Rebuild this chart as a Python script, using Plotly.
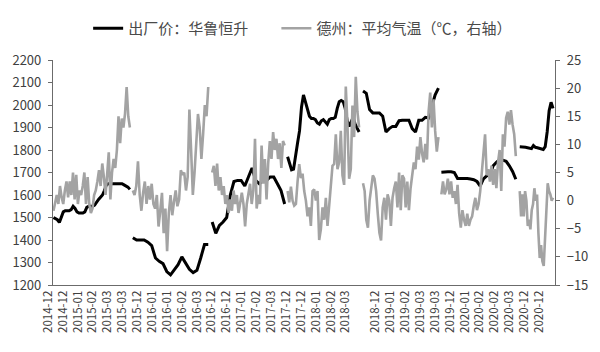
import plotly.graph_objects as go

# ---------------- data ----------------
price_name = "出厂价：华鲁恒升"
temp_name = "德州：平均气温（℃，右轴）"

# category-index span of each winter season (Dec -> Mar)
season_span = [(0, 78), (81, 158), (162, 236), (239, 312), (316, 393), (396, 472), (476, 510)]

price_s1 = [1500, 1495, 1490, 1478, 1500, 1525, 1530, 1530, 1530, 1535, 1550, 1540, 1525, 1520, 1520, 1520,
            1525, 1545, 1550, 1550, 1550, 1555, 1570, 1580, 1590, 1600, 1620, 1645, 1650, 1650, 1650, 1650,
            1650, 1650, 1650, 1650, 1645, 1640, 1635, 1625]
price_s2 = [1410, 1400, 1400, 1400, 1390, 1375, 1320, 1305, 1295, 1260, 1245, 1265, 1290, 1325, 1300, 1270,
            1255, 1265, 1320, 1380, 1380]
price_s3 = [1480, 1430, 1465, 1480, 1500, 1600, 1660, 1665, 1665, 1640, 1680, 1720, 1665, 1650, 1665, 1665,
            1680, 1680, 1650, 1620, 1560]
price_s4 = [1770, 1740, 1712, 1715, 1765, 1830, 1885, 1990, 2045, 2015, 1975, 1950, 1940, 1940, 1935, 1920,
            1915, 1930, 1935, 1925, 1915, 1935, 1940, 1940, 1945, 1985, 2015, 2020, 2015, 1985, 1930, 1905,
            1925, 1945, 1915, 1895, 1880]
price_s5 = [2062, 2052, 1980, 1965, 1965, 1965, 1950, 1880, 1895, 1905, 1905, 1930, 1932, 1932, 1932, 1895,
            1880, 1932, 1932, 1945, 1942, 1995, 2045, 2075]
price_s6 = [1701, 1703, 1703, 1703, 1700, 1673, 1673, 1675, 1673, 1671, 1668, 1660, 1640, 1672, 1685, 1690,
            1730, 1745, 1757, 1755, 1750, 1730, 1705, 1670]
price_s7 = [1814, 1814, 1814, 1812, 1810, 1808, 1806, 1820, 1812, 1810, 1808, 1806, 1802, 1815, 1880, 1975,
            2012, 1985]

temp_s1 = [-1.8, -0.6, 1, -0.6, 2.6, 0.6, -0.6, 1.8, 3.4, 0.6, 3.4, 1, 5, 0.2, 4.6, -0.6, 1.8, 1, 2.6, 5,
           -0.6, 4.2, -0.6, -2.2, -1.4, 1, 1.8, 3.4, 5.4, 2.6, 6.6, 4.2, 1, 4.6, 8.6, 0.2, 5, 7.4, 5.8, 9,
           15, 10.2, 14.6, 13, 15.4, 20.2, 15, 13]
temp_s2 = [1.8, 1, 2.6, 7, 1, -1.8, 1.4, 3.4, -0.6, 2.6, 0.2, 3, -0.6, -1.4, 1, -4.6, -1.8, 1.4, -5.8, -1.4,
           -9, -2.2, 1, -2.6, -0.2, 1.8, -1, 0.2, 5.4, 4.6, 5, 1.8, 4.2, 16.2, 9, 1, 5, 10.6, 15.4, 13,
           7.4, 11.8, 17, 15, 20.2]
temp_s3 = [5, 6.2, 2.6, 6.6, 1.8, 4.2, 1, 2.6, -0.6, 1, -2.2, 0.2, -1.8, 1.8, -0.6, 1, -2.2, -0.2, 1.4, -0.6,
           -4.6, -0.6, 1, 3, -0.6, 1.8, 11, -1.4, 1, -0.6, 9.8, 3, 7.4, 0.2, 6.6, 10.6, 7.4, 12.2, 9, 11,
           7.4, 10.2, 5.8, 10.6, 9.8]
temp_s4 = [1.7, -0.3, 2.5, 0, -0.9, -0.6, 3.4, 6.5, 4, 4.8, 1.7, 0, -2.8, -1.2, -4.5, 1.7, 2, 0, 1.7, -7,
           -5.1, -1.2, -3.4, 0.5, -4.5, -0.6, 1.7, 6.2, 6.5, 11.8, 5.6, 6.8, 12.4, 4.5, 2.8, 20.3, 13.5, 3.9,
           5.6, 16.9, 11.3, 22, 15.8, 13]
temp_s5 = [3.1, 1.7, -3.4, -4.8, 0, 2.5, 4.5, 3.9, 1.7, -2.3, -5.7, -7.1, -1.2, 0.5, -3.4, 1.1, 0, -4.5, 0.5,
           2.2, 3.4, -1.2, 5, -1.7, 4.5, 3.9, -1.2, 3.4, -1.7, 2.2, 4.5, 6.8, 5.6, 9.6, 7.3, 11.3, 8.4, 6.8,
           10.1, 7.3, 15.8, 19.2, 13, 18, 12.4, 8.7, 11.3]
temp_s6 = [1.1, 3.4, 1.1, 2, 3.9, 1.1, 3.4, 0.5, 1.7, -0.6, 2.8, -2.3, -4.8, -1.7, -3.4, -4.5, -2.3, -4.5,
           -3.4, -2.8, -0.9, 0.5, -1.7, -0.6, 1.7, 5.6, 9, 11.8, 4.5, 5.6, 3.4, 6.2, 2.8, 5.6, 2.2, 6.8, 9,
           1.7, 11.8, 9.6, 14.7, 15.8, 13.5, 16.1, 13.5, 11.8, 7.9]
temp_s7 = [1.7, -2.8, 1.1, -2.8, 1.7, 0, -4.5, -3.4, -5.1, -1.7, -0.6, 2.2, 0, 1.1, -5.7, -10.2, -7.9, -10.8,
           -11.6, -6.8, -1.2, 3.1, 1.7, 1.1, 0, 0.5]

tick_labels = ["2014-12", "2014-12", "2015-01", "2015-02", "2015-03", "2015-03", "2015-12", "2016-01",
               "2016-01", "2016-02", "2016-03", "2016-12", "2016-12", "2017-01", "2017-02", "2017-03",
               "2017-12", "2017-12", "2018-01", "2018-02", "2018-03", "", "2018-12", "2019-01", "2019-02",
               "2019-03", "2019-03", "2019-12", "2020-01", "2020-02", "2020-02", "2020-03", "2020-12",
               "2020-12"]

price_seasons = [price_s1, price_s2, price_s3, price_s4, price_s5, price_s6, price_s7]
temp_seasons = [temp_s1, temp_s2, temp_s3, temp_s4, temp_s5, temp_s6, temp_s7]


def build(seasons):
    xs, ys = [], []
    for (a, b), vals in zip(season_span, seasons):
        n = len(vals)
        for k, v in enumerate(vals):
            xs.append(a + k * (b - a) / (n - 1))
            ys.append(v)
        xs.append(None)
        ys.append(None)
    return xs, ys


px_, py_ = build(price_seasons)
tx_, ty_ = build(temp_seasons)

FONT = "Noto Sans CJK SC"
TXT = "#404040"
AX = "#6b6b6b"

fig = go.Figure()
fig.add_trace(go.Scatter(x=px_, y=py_, mode="lines", name=price_name, legend="legend",
                         line=dict(color="#000000", width=3), connectgaps=False))
fig.add_trace(go.Scatter(x=tx_, y=ty_, mode="lines", name=temp_name, yaxis="y2", legend="legend2",
                         line=dict(color="#a3a3a3", width=2.6), connectgaps=False))

slot = 15.2
tickvals = [i * slot - 0.5 for i in range(len(tick_labels))]

leg_common = dict(orientation="h", xanchor="left", y=1.14, yanchor="middle",
                  font=dict(size=15, color="#4a4a4a"), itemwidth=30, bgcolor="rgba(0,0,0,0)")

fig.update_layout(
    width=600, height=352,
    margin=dict(l=51, r=37, t=49, b=67),
    paper_bgcolor="white", plot_bgcolor="white",
    font=dict(family=FONT, color=TXT, size=12),
    showlegend=True,
    legend=dict(x=0.07, **leg_common),
    legend2=dict(x=0.445, **leg_common),
    xaxis=dict(range=[-0.5, 512], showgrid=False, zeroline=False, showline=True, linecolor=AX,
               linewidth=1.2, ticks="", tickmode="array", tickvals=tickvals, ticktext=tick_labels,
               tickangle=-90, tickfont=dict(size=11.5, color=TXT), ticklabelshift=-5),
    yaxis=dict(range=[1200, 2200], dtick=100, showgrid=False, zeroline=False, showline=True,
               linecolor=AX, linewidth=1.2, ticks="outside", ticklen=4, tickcolor=AX,
               tickfont=dict(size=13, color=TXT), ticklabelstandoff=4),
    yaxis2=dict(range=[-15, 25], dtick=5, overlaying="y", side="right", showgrid=False,
                zeroline=False, showline=True, linecolor=AX, linewidth=1.2, ticks="outside",
                ticklen=4, tickcolor=AX, tickfont=dict(size=13, color=TXT), ticklabelstandoff=4),
)

fig.write_html("out.html")
